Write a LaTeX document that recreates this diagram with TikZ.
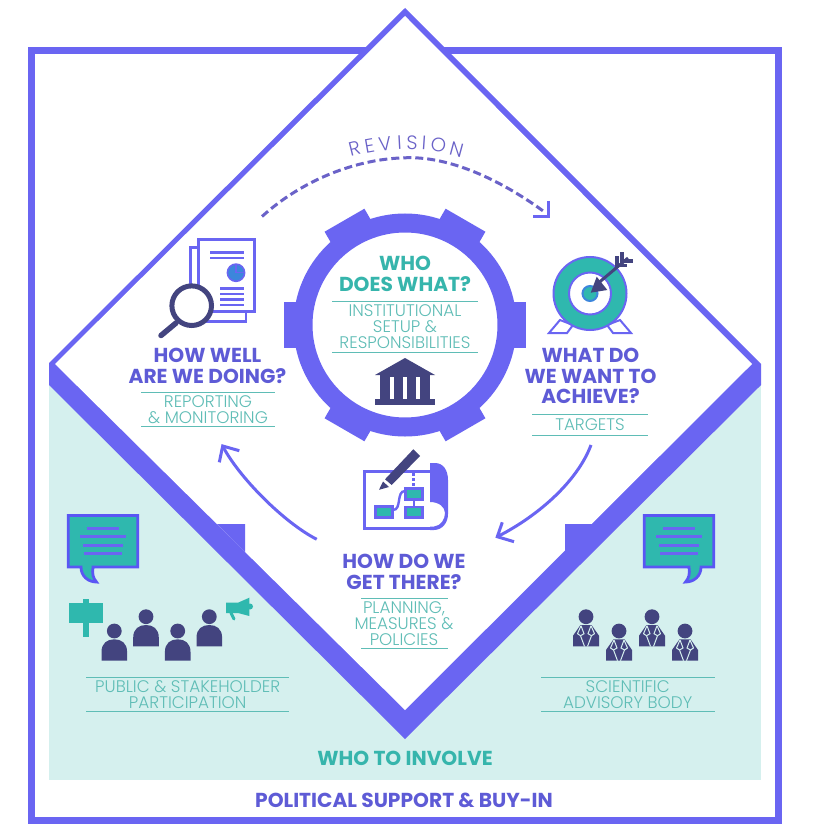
\documentclass[tikz,border=0pt]{standalone}
\usepackage{fontspec}
\usetikzlibrary{calc}
\setmainfont{Poppins}
\newfontfamily\lightf{Poppins Light}
\newfontfamily\boldf{Poppins Bold}
\definecolor{band}{HTML}{6A65F2}
\definecolor{ttlc}{HTML}{5E5BD6}
\definecolor{dark}{HTML}{43447F}
\definecolor{tealc}{HTML}{2FB8AE}
\definecolor{tealt}{HTML}{36B5AC}
\definecolor{ltea}{HTML}{D5F0EE}
\definecolor{subc}{HTML}{5FBDB6}
\definecolor{blu}{HTML}{3C86DC}
\definecolor{dashc}{HTML}{6A62C8}
\tikzset{
  x=1pt,y=-1pt,
  title/.style={text=ttlc,inner sep=0,align=center,font=\boldf\fontsize{20.2}{20.5}\selectfont},
  ttitle/.style={title,text=tealt},
  subt/.style={text=subc,inner sep=0,align=center,font=\lightf\fontsize{16.8}{16}\selectfont},
  rulel/.style={draw=subc,line width=0.9pt},
  ic/.style={draw=band,line width=2.6pt},
  tooth/.style={fill=band,minimum width=23pt,minimum height=46pt,inner sep=0,draw=none},
  flow/.style={draw=band,fill=tealc,line width=2.6pt},
  revl/.style={text=dashc,inner sep=0,font=\lightf\fontsize{19.5}{19.5}\selectfont},
  bubble/.style={draw=band!85!blue,fill=tealc,line width=2.8pt,line join=miter},
  bline/.style={draw=band,line width=2.8pt},
  curvearrow/.style={draw=band,line width=3pt,line join=miter},
}
\newcommand{\crowd}[2]{%
  \fill[dark] (#1,#2) circle (7.4);
  \fill[dark] (#1-12.8,#2+29.7) -- (#1-12.8,#2+21) .. controls (#1-12.8,#2+12) and (#1-7,#2+8.3) .. (#1,#2+8.3) .. controls (#1+7,#2+8.3) and (#1+12.8,#2+12) .. (#1+12.8,#2+21) -- (#1+12.8,#2+29.7) -- cycle;
}
\newcommand{\suit}[2]{%
  \fill[dark] (#1,#2) circle (7.4);
  \fill[dark] (#1-13,#2+29.7) -- (#1-13,#2+19) -- (#1-5.5,#2+8.3) -- (#1+5.5,#2+8.3) -- (#1+13,#2+19) -- (#1+13,#2+29.7) -- cycle;
  \draw[ltea,line width=1pt,line join=round] (#1-5,#2+9) -- (#1-8.5,#2+17) -- (#1-5.5,#2+19) -- (#1-1.5,#2+29.7);
  \draw[ltea,line width=1pt,line join=round] (#1+5,#2+9) -- (#1+8.5,#2+17) -- (#1+5.5,#2+19) -- (#1+1.5,#2+29.7);
  \draw[ltea,line width=1pt] (#1-5,#2+9) -- (#1-2,#2+17) -- (#1-5.5,#2+19);
  \draw[ltea,line width=1pt] (#1+5,#2+9) -- (#1+2,#2+17) -- (#1+5.5,#2+19);
}
\begin{document}
\begin{tikzpicture}
\useasboundingbox (0,0) rectangle (814,834);
\fill[white] (0,0) rectangle (814,834);
% frame
\draw[band,line width=6.8pt] (31.5,50.5) rectangle (778.5,820.5);
% light background
\fill[ltea] (49,380) rectangle (761,779.5);
% diamond
\fill[band] (405,8) -- (761,364) -- (761,385) -- (405,739) -- (49,385) -- (49,363) -- cycle;
\fill[white] (405,16) -- (752,364) -- (405,710) -- (55,364) -- cycle;
\fill[band] (217,524) -- (245,524) -- (245,552) -- cycle;
\fill[band] (565,552) -- (565,524) -- (593,524) -- cycle;
% gear
\foreach \a in {0,60,...,300}
  \node[tooth,rotate=-\a] at ($(405,325)+(\a:109.5)$) {};
\draw[band,line width=19pt] (405,325) circle (102);
% centre text
\node[ttitle] (who) at (405,274) {WHO\\DOES WHAT?};
\draw[rulel] (332,301) -- (478,301);
\node[subt] (inst) at (405,326.5) {INSTITUTIONAL\\SETUP \&\\RESPONSIBILITIES};
\draw[rulel] (332,352.7) -- (478,352.7);
% temple
\fill[dark] (405,358) -- (435,375) -- (375,375) -- cycle;
\fill[dark] (380,375) rectangle (430,400);
\fill[white] (390,377) rectangle (394,399);
\fill[white] (402.6,377) rectangle (407.4,399);
\fill[white] (416,377) rectangle (420,399);
\fill[dark] (375,399) rectangle (435,405);
% document icon
\draw[ic,fill=white] (190.6,247.3) rectangle (246,321.4);
\draw[ic,fill=white] (198.6,239.3) rectangle (254.7,311.7);
\draw[bline] (210,252.7) -- (244,252.7);
\draw[bline] (210,257.9) -- (244,257.9);
\fill[blu] (236,272.7) circle (8.6);
\draw[band,line width=1.6pt] (236,272.7) circle (8.6);
\draw[band,line width=1.2pt] (236,272.7) -- (236,265) (236,272.7) -- (243.7,272.7);
\foreach \yy in {288.3,294,299.6,305} \draw[bline] (220,\yy) -- (244,\yy);
\draw[dark,line width=5.5pt,line cap=round] (176,323) -- (161,335.5);
\draw[dark,line width=5pt,fill=white] (191.7,305.7) circle (19.8);
\node[title] (q1) at (207.5,366) {HOW WELL\\ARE WE DOING?};
\draw[rulel] (141,392.3) -- (275,392.3);
\node[subt] (s1) at (208,409.5) {REPORTING\\\& MONITORING};
\draw[rulel] (141,426.3) -- (275,426.3);
% target
\draw[ic,line width=2pt,fill=white] (549,333) -- (567,333) -- (573,325) -- (560,320) -- cycle;
\draw[ic,line width=2pt,fill=white] (631,333) -- (613,333) -- (607,325) -- (620,320) -- cycle;
\draw[band,line width=2pt,fill=tealc] (590,293.5) circle (36.5);
\draw[band,line width=2pt,fill=white] (590,293.5) circle (21);
\draw[blu,line width=2pt,fill=tealc] (590,293.5) circle (7.5);
\draw[dark,line width=3pt] (596,285) -- (628,258);
\fill[dark] (590.7,292.7) -- (596.7,276.7) -- (607.3,290) -- cycle;
\draw[dark,line width=3.4pt] (617,256) -- (617,265.5) -- (627,265.5);
\draw[dark,line width=3.4pt] (622,252) -- (622,261) -- (633,261);
\node[title] (q2) at (590.5,376) {WHAT DO\\WE WANT TO\\ACHIEVE?};
\draw[rulel] (532,414) -- (648,414);
\node[subt] (s2) at (590,424.5) {TARGETS};
\draw[rulel] (532,435.7) -- (648,435.7);
% plan icon
\fill[band] (430,463) -- (435,463) .. controls (443,463) and (448,470) .. (448,480) -- (448,514) .. controls (448,523) and (442,530) .. (434,530) -- (430,530) -- (430,526.5) -- (434,526.5) .. controls (441,526) and (445,519) .. (445,513) .. controls (445,507) and (439,502) .. (430,502) -- cycle;
\draw[band,line width=2.6pt] (432,471.6) -- (364.6,471.6) -- (364.6,528.6) -- (436,528.6);
\draw[band,line width=2.4pt,dash pattern=on 3pt off 2pt] (413.5,473) -- (413.5,487);
\draw[band,line width=2.4pt] (414,500) -- (414,506);
\draw[band,line width=2.4pt] (393,510) .. controls (402,510) and (396,491) .. (405,491);
\draw[flow] (405.3,488.6) rectangle (422.7,499.4);
\draw[flow] (405.3,507) rectangle (422.7,517.7);
\draw[flow] (375.3,506.3) rectangle (392.7,517.7);
\fill[dark] (413.3,449.3) -- (420,456) -- (391.7,485) -- (385,479.3) -- cycle;
\fill[dark] (383,481.5) -- (389,487) -- (379,489.8) -- cycle;
\draw[white,line width=1pt] (384,479.6) -- (391,486.2);
\node[title] (q3) at (404,572) {HOW DO WE\\GET THERE?};
\draw[rulel] (361,598.3) -- (448,598.3);
\node[subt] (s3) at (404,623.8) {PLANNING,\\MEASURES \&\\POLICIES};
\draw[rulel] (361,648.3) -- (448,648.3);
% revision
\coordinate (ra) at (262,216.5);
\coordinate (rm) at (410,157.7);
\coordinate (rb) at (544.5,212);
\draw[dashc,line width=3pt,dash pattern=on 8pt off 4pt] (ra) .. controls (300,182) and (355,157.7) .. (rm) .. controls (455,157.7) and (505,183) .. (rb);
\draw[band,line width=3.2pt] (548.7,201) -- (548.7,216.7) -- (532.5,216.7);
\node[revl,rotate=14] (r1) at (354.5,149) {R};
\node[revl,rotate=10] (r2) at (369.5,145.5) {E};
\node[revl,rotate=7]  (r3) at (385,143.5) {V};
\node[revl,rotate=3]  (r4) at (399.5,142.5) {I};
\node[revl,rotate=-1] (r5) at (412,142.5) {S};
\node[revl,rotate=-4] (r6) at (424,143) {I};
\node[revl,rotate=-9] (r7) at (438.5,145) {O};
\node[revl,rotate=-15] (r8) at (456.5,149.5) {N};
% cycle arrows
\coordinate (a1) at (591,445);
\coordinate (a2) at (497.3,536.7);
\coordinate (a3) at (316.7,539.3);
\coordinate (a4) at (222.7,446);
\coordinate (b1) at (502.3,522.3);
\coordinate (b2) at (514,541.7);
\coordinate (b3) at (219.3,462.3);
\coordinate (b4) at (239.3,450.7);
\draw[curvearrow] (a1) .. controls (578,480) and (540,515) .. (a2);
\draw[curvearrow] (b1) -- (a2) -- (b2);
\draw[curvearrow] (a3) .. controls (283,522) and (238,476) .. (a4);
\draw[curvearrow] (b3) -- (a4) -- (b4);
% bubbles
\draw[bubble] (68.2,515.5) -- (137.8,515.5) -- (137.8,567) -- (93,567) .. controls (92,574) and (93,578) .. (96.5,582) .. controls (88,582) and (81,576) .. (81,567) -- (68.2,567) -- cycle;
\draw[bline] (86.7,528.3) -- (119.3,528.3);
\draw[bline] (80,536.7) -- (126,536.7);
\draw[bline] (83,545.3) -- (123,545.3);
\draw[bline] (84,553.7) -- (122,553.7);
\draw[bubble] (644.2,515.5) -- (713.8,515.5) -- (713.8,567) -- (701,567) .. controls (701,576) and (694,582) .. (685.5,582) .. controls (689,578) and (690,574) .. (689,567) -- (644.2,567) -- cycle;
\draw[bline] (662.7,528.3) -- (695.3,528.3);
\draw[bline] (656,536.7) -- (702,536.7);
\draw[bline] (659,545.3) -- (699,545.3);
\draw[bline] (660,553.7) -- (698,553.7);
% sign
\fill[tealc] (69.3,603.3) rectangle (102.7,622.7);
\fill[tealc] (82.7,599) rectangle (89,637.3);
% megaphone
\fill[tealc] (226,602.7) -- (238,602.7) -- (249.3,597.7) -- (249.3,616) -- (238,613) -- (226,613) -- cycle;
\fill[tealc] (250,606.5) circle (3);
\draw[tealc,line width=3pt,line cap=round] (231,613) -- (234,619);
% people
\crowd{114.3}{631}
\crowd{146}{616.7}
\crowd{177.7}{631}
\crowd{209.3}{616.7}
\suit{586}{616.7}
\suit{619}{631}
\suit{652}{616.7}
\suit{685}{631}
% lower labels
\draw[rulel] (86,677.3) -- (289,677.3);
\node[subt] (s4) at (187.7,694.7) {PUBLIC \& STAKEHOLDER\\PARTICIPATION};
\draw[rulel] (86,711) -- (289,711);
\draw[rulel] (541,677.3) -- (715,677.3);
\node[subt] (s5) at (627.7,694.7) {SCIENTIFIC\\ADVISORY BODY};
\draw[rulel] (541,711) -- (715,711);
\node[ttitle] (inv) at (405,758.3) {WHO TO INVOLVE};
\node[title] (pol) at (404,800) {POLITICAL SUPPORT \& BUY-IN};
\end{tikzpicture}
\end{document}
